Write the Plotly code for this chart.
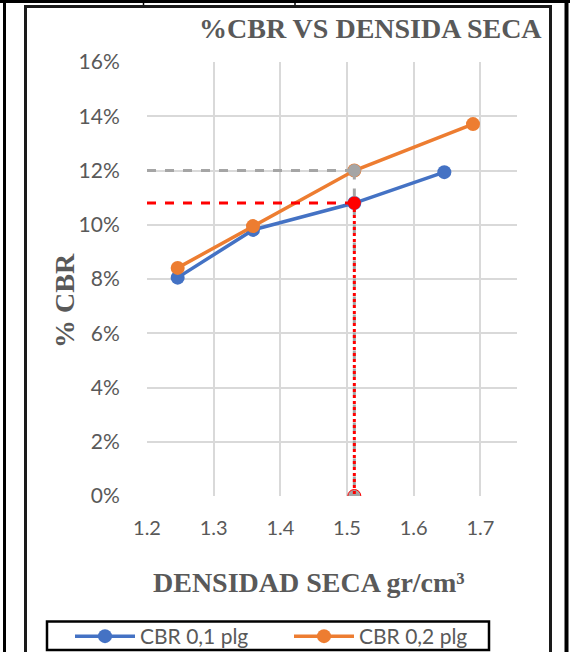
import plotly.graph_objects as go

# ---- data ----
dens_01 = [1.246, 1.359, 1.511, 1.646]
cbr_01 = [0.0805, 0.0981, 0.1080, 0.1194]
dens_02 = [1.246, 1.359, 1.511, 1.689]
cbr_02 = [0.0841, 0.0995, 0.1200, 0.1371]
dens_design = 1.511
cbr_design_01 = 0.108
cbr_design_02 = 0.120
x_start = 1.2
series_names = ["CBR 0,1 plg", "CBR 0,2 plg"]
x_ticks = [1.2, 1.3, 1.4, 1.5, 1.6, 1.7]

W, H = 570, 652
L, R, T, B = 147, 517, 62, 496


def px(x):
    return (x - L) / (R - L)


def py(y):
    return (B - y) / (B - T)


BLUE = "#4472C4"
ORANGE = "#ED7D31"
GREY = "#A5A5A5"
RED = "#FF0000"
TXT = "#595959"

fig = go.Figure()
fig.add_trace(go.Scatter(x=dens_01, y=cbr_01, mode="lines+markers", name=series_names[0],
                         line=dict(color=BLUE, width=3.5), marker=dict(size=14, color=BLUE)))
fig.add_trace(go.Scatter(x=dens_02, y=cbr_02, mode="lines+markers", name=series_names[1],
                         line=dict(color=ORANGE, width=3.5), marker=dict(size=14, color=ORANGE)))
# grey guide (0,2 plg)
fig.add_trace(go.Scatter(x=[x_start, dens_design], y=[cbr_design_02, cbr_design_02], mode="lines",
                         line=dict(color=GREY, width=3, dash="dash"), showlegend=False, hoverinfo="skip"))
fig.add_trace(go.Scatter(x=[dens_design, dens_design], y=[cbr_design_02, 0], mode="lines+markers",
                         line=dict(color=GREY, width=3, dash="dash"),
                         marker=dict(size=13, color=GREY, line=dict(color=["rgba(0,0,0,0)", RED], width=1)),
                         showlegend=False, hoverinfo="skip"))
# red guide (0,1 plg)
fig.add_trace(go.Scatter(x=[x_start, dens_design], y=[cbr_design_01, cbr_design_01], mode="lines",
                         line=dict(color=RED, width=3, dash="dash"), showlegend=False, hoverinfo="skip"))
fig.add_trace(go.Scatter(x=[dens_design, dens_design], y=[cbr_design_01, 0], mode="lines",
                         line=dict(color=RED, width=3, dash="dot"), showlegend=False, hoverinfo="skip"))
fig.add_trace(go.Scatter(x=[dens_design], y=[cbr_design_01], mode="markers",
                         marker=dict(size=13, color=RED), showlegend=False, hoverinfo="skip"))

shapes = [
    dict(type="line", xref="paper", yref="paper", x0=px(0), x1=px(570), y0=py(1.5), y1=py(1.5),
         line=dict(color="black", width=3)),
    dict(type="line", xref="paper", yref="paper", x0=px(4.5), x1=px(4.5), y0=py(0), y1=py(652),
         line=dict(color="black", width=3)),
    dict(type="line", xref="paper", yref="paper", x0=px(566.5), x1=px(566.5), y0=py(0), y1=py(652),
         line=dict(color="black", width=4)),
    dict(type="line", xref="paper", yref="paper", x0=px(143.5), x1=px(143.5), y0=py(0), y1=py(6),
         line=dict(color="black", width=1.5)),
    dict(type="line", xref="paper", yref="paper", x0=px(295), x1=px(295), y0=py(0), y1=py(6),
         line=dict(color="black", width=1.5)),
    dict(type="rect", xref="paper", yref="paper", x0=px(25.5), x1=px(550.5), y0=py(6.5), y1=py(670),
         line=dict(color="#1a1a1a", width=3)),
    # legend frame
    dict(type="rect", xref="paper", yref="paper", x0=px(47), x1=px(489), y0=py(621.5), y1=py(650),
         line=dict(color="black", width=2.5)),
]

annotations = [
    dict(text="<b>%CBR VS DENSIDA SECA</b>", xref="paper", yref="paper", x=px(370), y=py(28),
         xanchor="center", yanchor="middle", showarrow=False,
         font=dict(family="Liberation Serif", size=28, color=TXT)),
    dict(text="<b>% CBR</b>", xref="paper", yref="paper", x=px(64), y=py(301),
         xanchor="center", yanchor="middle", showarrow=False, textangle=-90,
         font=dict(family="Liberation Serif", size=28, color=TXT)),
    dict(text="<b>DENSIDAD SECA gr/cm³</b>", xref="paper", yref="paper", x=px(309), y=py(582),
         xanchor="center", yanchor="middle", showarrow=False,
         font=dict(family="Liberation Serif", size=28, color=TXT)),
]

fig.update_layout(
    width=W, height=H, autosize=False,
    margin=dict(l=L, r=W - R, t=T, b=H - B, pad=0, autoexpand=False),
    paper_bgcolor="white", plot_bgcolor="white",
    shapes=shapes, annotations=annotations,
    showlegend=True,
    legend=dict(orientation="h", x=px(70), y=py(616), xanchor="left", yanchor="top",
                borderwidth=0, bgcolor="rgba(0,0,0,0)",
                font=dict(family="Lato", size=21, color=TXT), itemwidth=60,
                entrywidth=144, entrywidthmode="pixels",
                tracegroupgap=0),
    xaxis=dict(range=[1.2, 1.755], tickvals=x_ticks, ticktext=[f"{v:.1f}" for v in x_ticks],
               showgrid=True, gridcolor="#D9D9D9", gridwidth=1.5, zeroline=False,
               showline=False, ticks="outside", ticklen=14, tickcolor="rgba(0,0,0,0)",
               tickfont=dict(family="Lato", size=20, color=TXT)),
    yaxis=dict(range=[0, 0.16], dtick=0.02, tickformat=".0%",
               showgrid=True, gridcolor="#D9D9D9", gridwidth=1.5, zeroline=False,
               showline=False, ticks="outside", ticklen=22, tickcolor="rgba(0,0,0,0)",
               tickfont=dict(family="Lato", size=21, color=TXT)),
)

fig.write_html("out.html", config={"displayModeBar": False},
               post_script="document.body.style.margin='0';")
